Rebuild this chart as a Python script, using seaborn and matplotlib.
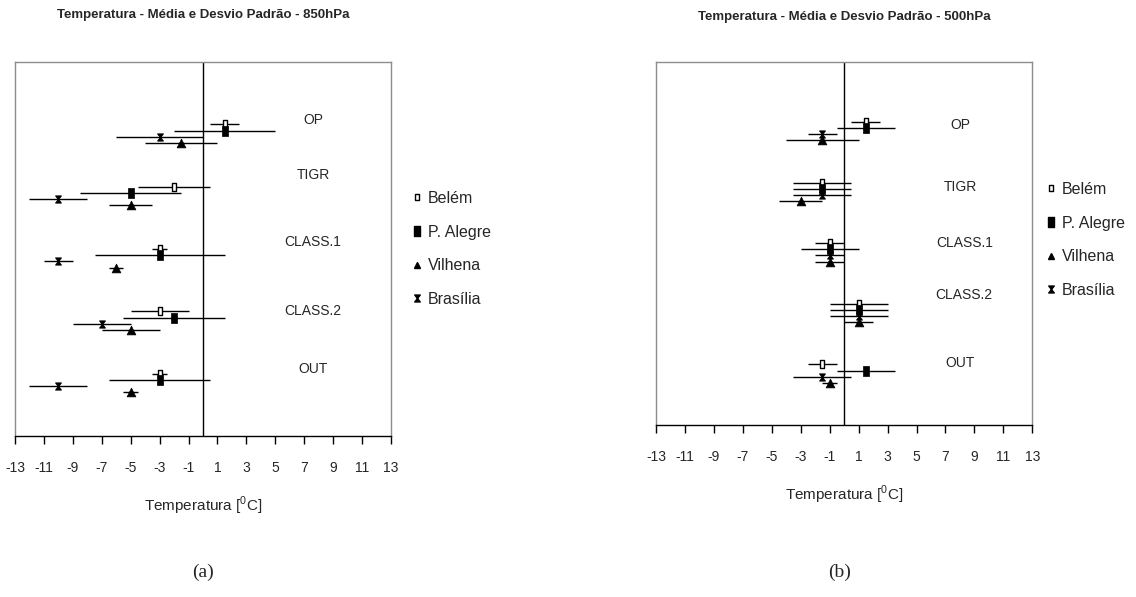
import matplotlib
matplotlib.use("Agg")
import matplotlib.pyplot as plt
from matplotlib import font_manager
from matplotlib.lines import Line2D
from matplotlib.path import Path
import seaborn as sns
import pandas as pd

# ---------------- data ----------------
classes = ["OP", "TIGR", "CLASS.1", "CLASS.2", "OUT"]
stations = ["Belém", "P. Alegre", "Vilhena", "Brasília"]

# 850 hPa  (mean, standard deviation) per class
belem_850_mean = [1.5, -2.0, -3.0, -3.0, -3.0]
belem_850_sd = [1.0, 2.5, 0.5, 2.0, 0.5]
palegre_850_mean = [1.5, -5.0, -3.0, -2.0, -3.0]
palegre_850_sd = [3.5, 3.5, 4.5, 3.5, 3.5]
vilhena_850_mean = [-1.5, -5.0, -6.0, -5.0, -5.0]
vilhena_850_sd = [2.5, 1.5, 0.5, 2.0, 0.5]
brasilia_850_mean = [-3.0, -10.0, -10.0, -7.0, -10.0]
brasilia_850_sd = [3.0, 2.0, 1.0, 2.0, 2.0]

# 500 hPa
belem_500_mean = [1.5, -1.5, -1.0, 1.0, -1.5]
belem_500_sd = [1.0, 2.0, 1.0, 2.0, 1.0]
palegre_500_mean = [1.5, -1.5, -1.0, 1.0, 1.5]
palegre_500_sd = [2.0, 2.0, 2.0, 2.0, 2.0]
vilhena_500_mean = [-1.5, -3.0, -1.0, 1.0, -1.0]
vilhena_500_sd = [2.5, 1.5, 1.0, 1.0, 0.5]
brasilia_500_mean = [-1.5, -1.5, -1.0, 1.0, -1.5]
brasilia_500_sd = [1.0, 2.0, 1.0, 2.0, 2.0]

x_ticks = list(range(-13, 14, 2))

# ---------------- style ----------------
sns.set_style("white")
names = {f.name for f in font_manager.fontManager.ttflist}
SANS = "Liberation Sans Narrow" if "Liberation Sans Narrow" in names else "Liberation Sans"
plt.rcParams["font.family"] = [SANS, "DejaVu Sans"]
plt.rcParams["mathtext.fontset"] = "custom"
plt.rcParams["mathtext.rm"] = SANS

# marker shapes
rect = Path([(-0.33, -0.5), (0.33, -0.5), (0.33, 0.5), (-0.33, 0.5), (-0.33, -0.5)],
            [Path.MOVETO, Path.LINETO, Path.LINETO, Path.LINETO, Path.CLOSEPOLY])
hourglass = Path([(-0.4, 0.5), (0.4, 0.5), (-0.4, -0.5), (0.4, -0.5), (-0.4, 0.5)],
                 [Path.MOVETO, Path.LINETO, Path.LINETO, Path.LINETO, Path.CLOSEPOLY])

station_style = {
    "Belém": dict(marker=rect, s=28, facecolor="white", edgecolor="black", lw=1.0, offset=0.0),
    "P. Alegre": dict(marker=rect, s=55, facecolor="black", edgecolor="black", lw=0.5, offset=-0.1),
    "Brasília": dict(marker=hourglass, s=26, facecolor="black", edgecolor="black", lw=0.8, offset=-0.2),
    "Vilhena": dict(marker="^", s=40, facecolor="black", edgecolor="black", lw=0.5, offset=-0.3),
}


def build_frame(means, sds):
    rows = []
    for st in stations:
        for k, c in enumerate(classes):
            rows.append(dict(station=st, cls=c, mean=means[st][k], sd=sds[st][k],
                             ypos=len(classes) - k + station_style[st]["offset"]))
    return pd.DataFrame(rows)


df850 = build_frame(
    {"Belém": belem_850_mean, "P. Alegre": palegre_850_mean,
     "Vilhena": vilhena_850_mean, "Brasília": brasilia_850_mean},
    {"Belém": belem_850_sd, "P. Alegre": palegre_850_sd,
     "Vilhena": vilhena_850_sd, "Brasília": brasilia_850_sd})
df500 = build_frame(
    {"Belém": belem_500_mean, "P. Alegre": palegre_500_mean,
     "Vilhena": vilhena_500_mean, "Brasília": brasilia_500_mean},
    {"Belém": belem_500_sd, "P. Alegre": palegre_500_sd,
     "Vilhena": vilhena_500_sd, "Brasília": brasilia_500_sd})

label_pos_850 = [(7.6, 5.07), (7.6, 4.19), (7.6, 3.12), (7.6, 2.0), (7.6, 1.07)]
label_pos_500 = [(8.0, 4.95), (8.0, 3.93), (8.3, 3.0), (8.3, 2.15), (8.0, 1.02)]

fig = plt.figure(figsize=(11.36, 5.97), dpi=100)
ax1 = fig.add_axes([15 / 1136, 1 - 436 / 597, 376 / 1136, 374 / 597])
ax2 = fig.add_axes([656 / 1136, 1 - 425 / 597, 376.3 / 1136, 363.3 / 597])


def draw_panel(ax, df, label_pos):
    ax.axvline(0, color="black", lw=1.0, zorder=1)
    ax.errorbar(df["mean"], df["ypos"], xerr=df["sd"], fmt="none",
                ecolor="black", elinewidth=1.0, capsize=0, zorder=2)
    for st in ["Belém", "P. Alegre", "Brasília", "Vilhena"]:
        sty = station_style[st]
        sub = df[df["station"] == st]
        sns.scatterplot(data=sub, x="mean", y="ypos", ax=ax, marker=sty["marker"],
                        s=sty["s"], color=sty["facecolor"], edgecolor=sty["edgecolor"],
                        linewidth=sty["lw"], zorder=3, legend=False)
    for c, (lx, ly) in zip(classes, label_pos):
        ax.text(lx, ly, c, ha="center", va="center", fontsize=10)
    ax.set_xlim(-13, 13)
    ax.set_ylim(0, 6)
    ax.set_xticks(x_ticks)
    ax.set_xticklabels([str(t) for t in x_ticks], fontsize=10)
    ax.set_yticks([])
    ax.set_ylabel("")
    ax.set_xlabel("Temperatura [$^\\mathregular{0}$C]", fontsize=11, labelpad=14)
    ax.tick_params(axis="x", direction="out", length=6, width=1, color="black", pad=12,
                   bottom=True)
    for side in ["left", "top", "right"]:
        ax.spines[side].set_color("#8c8c8c")
        ax.spines[side].set_linewidth(1.0)
    ax.spines["bottom"].set_color("black")
    ax.spines["bottom"].set_linewidth(1.0)


draw_panel(ax1, df850, label_pos_850)
draw_panel(ax2, df500, label_pos_500)

fig.text(203 / 1136, 1 - 15 / 597, "Temperatura - Média e Desvio Padrão - 850hPa",
         ha="center", va="center", fontsize=9.5, fontweight="bold")
fig.text(844 / 1136, 1 - 17 / 597, "Temperatura - Média e Desvio Padrão - 500hPa",
         ha="center", va="center", fontsize=9.5, fontweight="bold")

fig.text(203 / 1136, 1 - 572 / 597, "(a)", ha="center", va="center", fontsize=14,
         family="Liberation Serif")
fig.text(840 / 1136, 1 - 572 / 597, "(b)", ha="center", va="center", fontsize=14,
         family="Liberation Serif")

handles = [
    Line2D([], [], ls="none", marker=rect, markersize=5, markerfacecolor="white",
           markeredgecolor="black", markeredgewidth=1.0),
    Line2D([], [], ls="none", marker=rect, markersize=7, markerfacecolor="black",
           markeredgecolor="black"),
    Line2D([], [], ls="none", marker="^", markersize=5, markerfacecolor="black",
           markeredgecolor="black"),
    Line2D([], [], ls="none", marker=hourglass, markersize=5, markerfacecolor="black",
           markeredgecolor="black"),
]
leg_labels = ["Belém", "P. Alegre", "Vilhena", "Brasília"]
for x0, y0 in [(412, 191), (1046, 182)]:
    fig.legend(handles, leg_labels, loc="upper left",
               bbox_to_anchor=(x0 / 1136, 1 - y0 / 597), frameon=False,
               fontsize=11.5, handlelength=0.6, handletextpad=0.4, labelspacing=1.17,
               borderpad=0, borderaxespad=0)

fig.savefig("out.png", dpi=100)
